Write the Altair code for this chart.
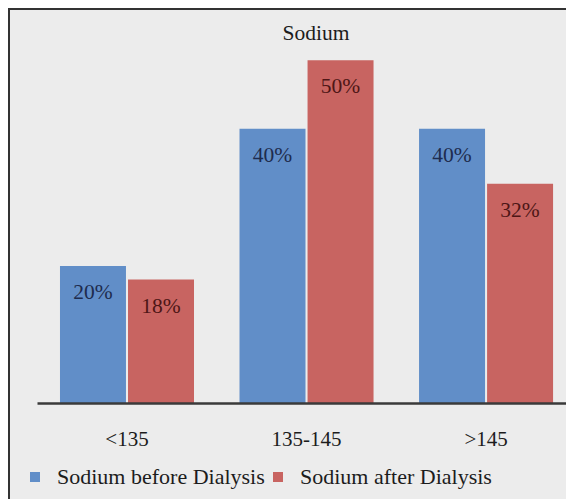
import altair as alt
import pandas as pd

# Sodium level groups and share of patients (%) before / after dialysis
categories = ["<135", "135-145", ">145"]
series = ["Sodium before Dialysis", "Sodium after Dialysis"]
before_pct = [20, 40, 40]
after_pct = [18, 50, 32]

rows = []
for i, cat in enumerate(categories):
    rows.append({"range": cat, "series": series[0], "value": before_pct[i]})
    rows.append({"range": cat, "series": series[1], "value": after_pct[i]})
df = pd.DataFrame(rows)
df["label"] = df["value"].astype(str) + "%"

SERIF = "Times New Roman, Liberation Serif, DejaVu Serif, serif"
TEXT = "#1c1c1c"
BLUE = "#618ec8"
RED = "#c86461"
BLUE_TXT = "#1e2c4e"
RED_TXT = "#4e1616"

x = alt.X(
    "range:N",
    sort=categories,
    title=None,
    scale=alt.Scale(paddingInner=0.2535, paddingOuter=0.1, align=0.64),
    axis=alt.Axis(
        labelAngle=0,
        ticks=False,
        grid=False,
        labelPadding=25,
        domainColor="#3a3a3a",
        domainWidth=2.5,
        labelFont=SERIF,
        labelFontSize=21,
        labelColor=TEXT,
        zindex=1,
    ),
)
xoff = alt.XOffset("series:N", sort=series, scale=alt.Scale(paddingInner=0.03))
y = alt.Y("value:Q", scale=alt.Scale(domain=[0, 55]), axis=None)

# framed light-grey chart panel
panel = alt.Chart(alt.Data(values=[{}])).mark_rect(
    fill="#ececec", stroke="#333333", strokeWidth=2
).encode(
    x=alt.value(-28), x2=alt.value(620), y=alt.value(-17), y2=alt.value(620)
)

bars = alt.Chart(df).mark_bar().encode(
    x=x,
    xOffset=xoff,
    y=y,
    color=alt.Color(
        "series:N",
        sort=series,
        scale=alt.Scale(domain=series, range=[BLUE, RED]),
        legend=alt.Legend(
            title=None,
            orient="none",
            legendX=-13,
            legendY=440,
            direction="horizontal",
            symbolType="square",
            symbolSize=100,
            symbolStrokeWidth=0,
            labelFont=SERIF,
            labelFontSize=22,
            labelColor=TEXT,
            labelOffset=11,
            labelLimit=400,
            columnPadding=2,
            padding=0,
        ),
    ),
)

labels = alt.Chart(df).mark_text(
    baseline="middle", dy=27, font=SERIF, fontSize=21.5
).encode(
    x=x,
    xOffset=xoff,
    y=y,
    text="label:N",
    color=alt.Color(
        "series:N",
        sort=series,
        scale=alt.Scale(domain=series, range=[BLUE_TXT, RED_TXT]),
        legend=None,
    ),
)

title_txt = alt.Chart(alt.Data(values=[{"t": "Sodium"}])).mark_text(
    font=SERIF, fontSize=21.5, color=TEXT, baseline="middle"
).encode(text="t:N", x=alt.value(279), y=alt.value(7.5))

chart = (
    alt.layer(panel, bars, labels, title_txt)
    .resolve_scale(color="independent")
    .properties(
        width=529,
        height=377,
        padding={"left": 37, "top": 26, "right": 0, "bottom": 96},
        autosize=alt.AutoSizeParams(type="none"),
        background="white",
    )
    .configure_view(stroke=None)
)

chart.save("out.html", embed_options={"renderer": "svg", "actions": False})
